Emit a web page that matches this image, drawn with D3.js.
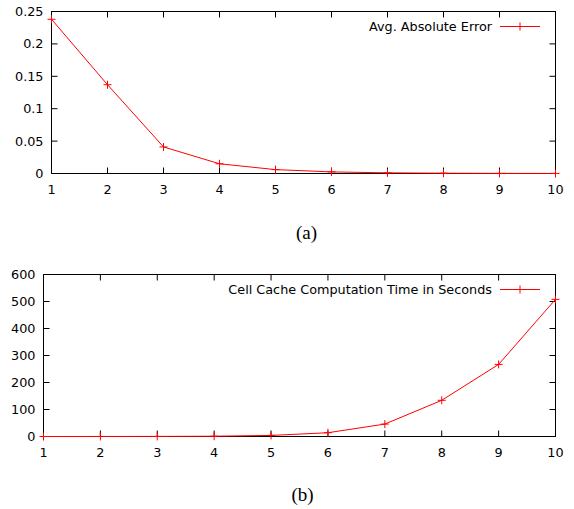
<!DOCTYPE html>
<html>
<head>
<meta charset="utf-8">
<script src="https://cdn.jsdelivr.net/npm/d3@7"></script>
<style>
  body { margin: 0; background: #fff; }
  svg text { font-family: "DejaVu Sans", sans-serif; font-size: 12.8px; fill: #000; }
  svg text.caption { font-family: "Liberation Serif", serif; font-size: 19px; }
</style>
</head>
<body>
<div id="chart"></div>
<script>
const xValues = [1, 2, 3, 4, 5, 6, 7, 8, 9, 10];
// panel (a)
const errorValues = [0.238, 0.137, 0.041, 0.015, 0.006, 0.0025, 0.001, 0.0005, 0.0002, 0.0001];
const errorTicks = [0, 0.05, 0.1, 0.15, 0.2, 0.25];
// panel (b)
const timeValues = [0, 0.1, 0.3, 1, 4, 14, 46, 134, 267, 508];
const timeTicks = [0, 100, 200, 300, 400, 500, 600];

const width = 574, height = 509;
const svg = d3.select('#chart').append('svg')
  .attr('width', width)
  .attr('height', height);

const red = '#ff0000';

function panel({ values, yTicks, yMax, label, caption, box, captionY, fmt }) {
  const x = d3.scaleLinear([1, 10], [box.left, box.right]);
  const y = d3.scaleLinear([0, yMax], [box.bottom, box.top]);
  const g = svg.append('g');
  const tick = 6;

  // frame
  g.append('rect')
    .attr('x', box.left).attr('y', box.top)
    .attr('width', box.right - box.left).attr('height', box.bottom - box.top)
    .style('fill', 'none').style('stroke', '#000').style('stroke-width', 1);

  // x ticks, mirrored on top
  const xt = g.selectAll('.xtick').data(xValues).join('g').attr('class', 'xtick');
  xt.append('line')
    .attr('x1', d => x(d)).attr('x2', d => x(d))
    .attr('y1', box.bottom).attr('y2', box.bottom - tick)
    .style('stroke', '#000');
  xt.append('line')
    .attr('x1', d => x(d)).attr('x2', d => x(d))
    .attr('y1', box.top).attr('y2', box.top + tick)
    .style('stroke', '#000');
  xt.append('text')
    .attr('x', d => x(d)).attr('y', box.bottom + 20)
    .attr('text-anchor', 'middle')
    .text(d => d);

  // y ticks, mirrored on right
  const yt = g.selectAll('.ytick').data(yTicks).join('g').attr('class', 'ytick');
  yt.append('line')
    .attr('x1', box.left).attr('x2', box.left + tick)
    .attr('y1', d => y(d)).attr('y2', d => y(d))
    .style('stroke', '#000');
  yt.append('line')
    .attr('x1', box.right).attr('x2', box.right - tick)
    .attr('y1', d => y(d)).attr('y2', d => y(d))
    .style('stroke', '#000');
  yt.append('text')
    .attr('x', box.left - 8).attr('y', d => y(d) + 4.5)
    .attr('text-anchor', 'end')
    .text(fmt);

  // series
  const line = d3.line()
    .x((d, i) => x(xValues[i]))
    .y(d => y(d));
  g.append('path')
    .datum(values)
    .attr('d', line)
    .style('fill', 'none').style('stroke', red).style('stroke-width', 1);

  const m = 4;
  g.selectAll('.pt').data(values).join('path')
    .attr('class', 'pt')
    .attr('d', (d, i) => {
      const cx = x(xValues[i]), cy = y(d);
      return `M${cx - m},${cy}H${cx + m}M${cx},${cy - m}V${cy + m}`;
    })
    .style('stroke', red).style('stroke-width', 1);

  // legend
  const ly = box.top + 15;
  g.append('text')
    .attr('x', 492).attr('y', ly + 4.5)
    .attr('text-anchor', 'end')
    .text(label);
  g.append('line')
    .attr('x1', 500).attr('x2', 540).attr('y1', ly).attr('y2', ly)
    .style('stroke', red);
  g.append('path')
    .attr('d', `M520,${ly - m}V${ly + m}`)
    .style('stroke', red);

  // caption
  g.append('text')
    .attr('class', 'caption')
    .attr('x', (box.left + box.right) / 2 + 3).attr('y', captionY)
    .attr('text-anchor', 'middle')
    .text(caption);
}

panel({
  values: errorValues,
  yTicks: errorTicks,
  yMax: 0.25,
  label: 'Avg. Absolute Error',
  caption: '(a)',
  box: { left: 51.5, right: 555.5, top: 11.5, bottom: 173.5 },
  captionY: 239,
  fmt: d => d
});

panel({
  values: timeValues,
  yTicks: timeTicks,
  yMax: 600,
  label: 'Cell Cache Computation Time in Seconds',
  caption: '(b)',
  box: { left: 43.5, right: 555.5, top: 274.5, bottom: 436.5 },
  captionY: 501,
  fmt: d => d
});
</script>
</body>
</html>
